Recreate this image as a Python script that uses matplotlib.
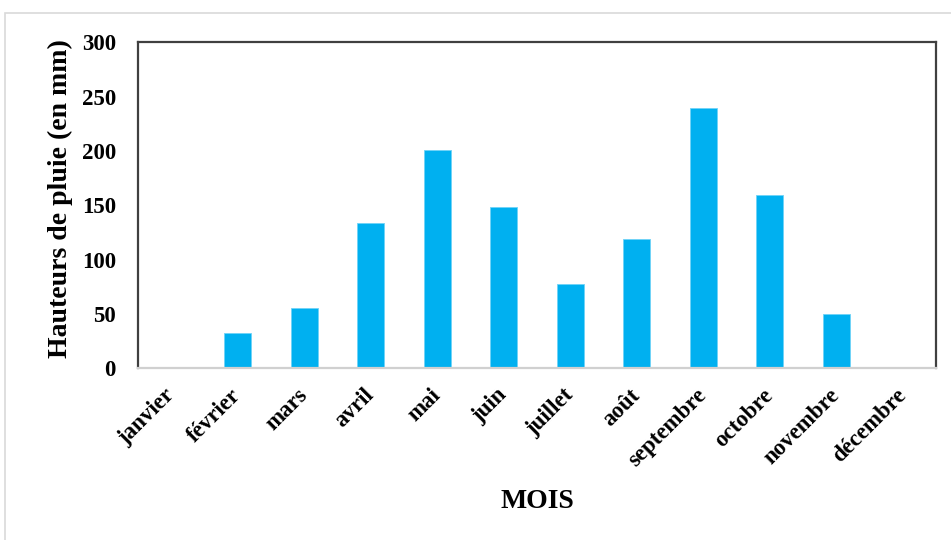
import matplotlib
matplotlib.use("Agg")
import matplotlib.pyplot as plt
from matplotlib.patches import Rectangle

plt.rcParams['font.family'] = ['Liberation Serif', 'DejaVu Serif']
plt.rcParams['font.weight'] = 'bold'

mois = ["janvier", "février", "mars", "avril", "mai", "juin", "juillet",
        "août", "septembre", "octobre", "novembre", "décembre"]
pluie_mm = [0, 33, 56, 134, 201, 149, 78, 119, 240, 160, 50, 0]
yticks = [0, 50, 100, 150, 200, 250, 300]

fig = plt.figure(figsize=(9.51, 5.40), dpi=100)
ax = fig.add_axes([0.1451, 0.3176, 0.8391, 0.6037])

x = list(range(len(mois)))
ax.bar(x, pluie_mm, width=0.41, color="#00B0F0", edgecolor="#6FD3F7",
       linewidth=0.6, zorder=2)

ax.set_xlim(-0.5, len(mois) - 0.5)
ax.set_ylim(0, 300)
ax.set_yticks(yticks)
ax.set_yticklabels([str(v) for v in yticks], fontsize=16.5, fontweight='bold')
ax.set_xticks(x)
ax.set_xticklabels(mois, rotation=45, ha='right', va='center',
                   rotation_mode='anchor', fontsize=16.5, fontweight='bold')
ax.tick_params(axis='y', length=0, pad=16)
ax.tick_params(axis='x', length=0, pad=17)

for side in ("top", "left", "right"):
    ax.spines[side].set_color("#404040")
    ax.spines[side].set_linewidth(1.6)
ax.spines["bottom"].set_color("#D0D0D0")
ax.spines["bottom"].set_linewidth(1.6)

ax.set_ylabel("Hauteurs de pluie (en mm)", fontsize=20, fontweight='bold')
ax.yaxis.set_label_coords(-0.081, 0.52)
ax.set_xlabel("MOIS", fontsize=20, fontweight='bold')
ax.xaxis.set_label_coords(0.5, -0.37)

# light frame around the chart area
fig.patches.append(Rectangle((5 / 951, -0.01), 1.0, 1 - 13 / 540 + 0.01,
                             transform=fig.transFigure, fill=False,
                             edgecolor="#D9D9D9", linewidth=1.2))

fig.savefig("out.png", dpi=100, facecolor="white")
